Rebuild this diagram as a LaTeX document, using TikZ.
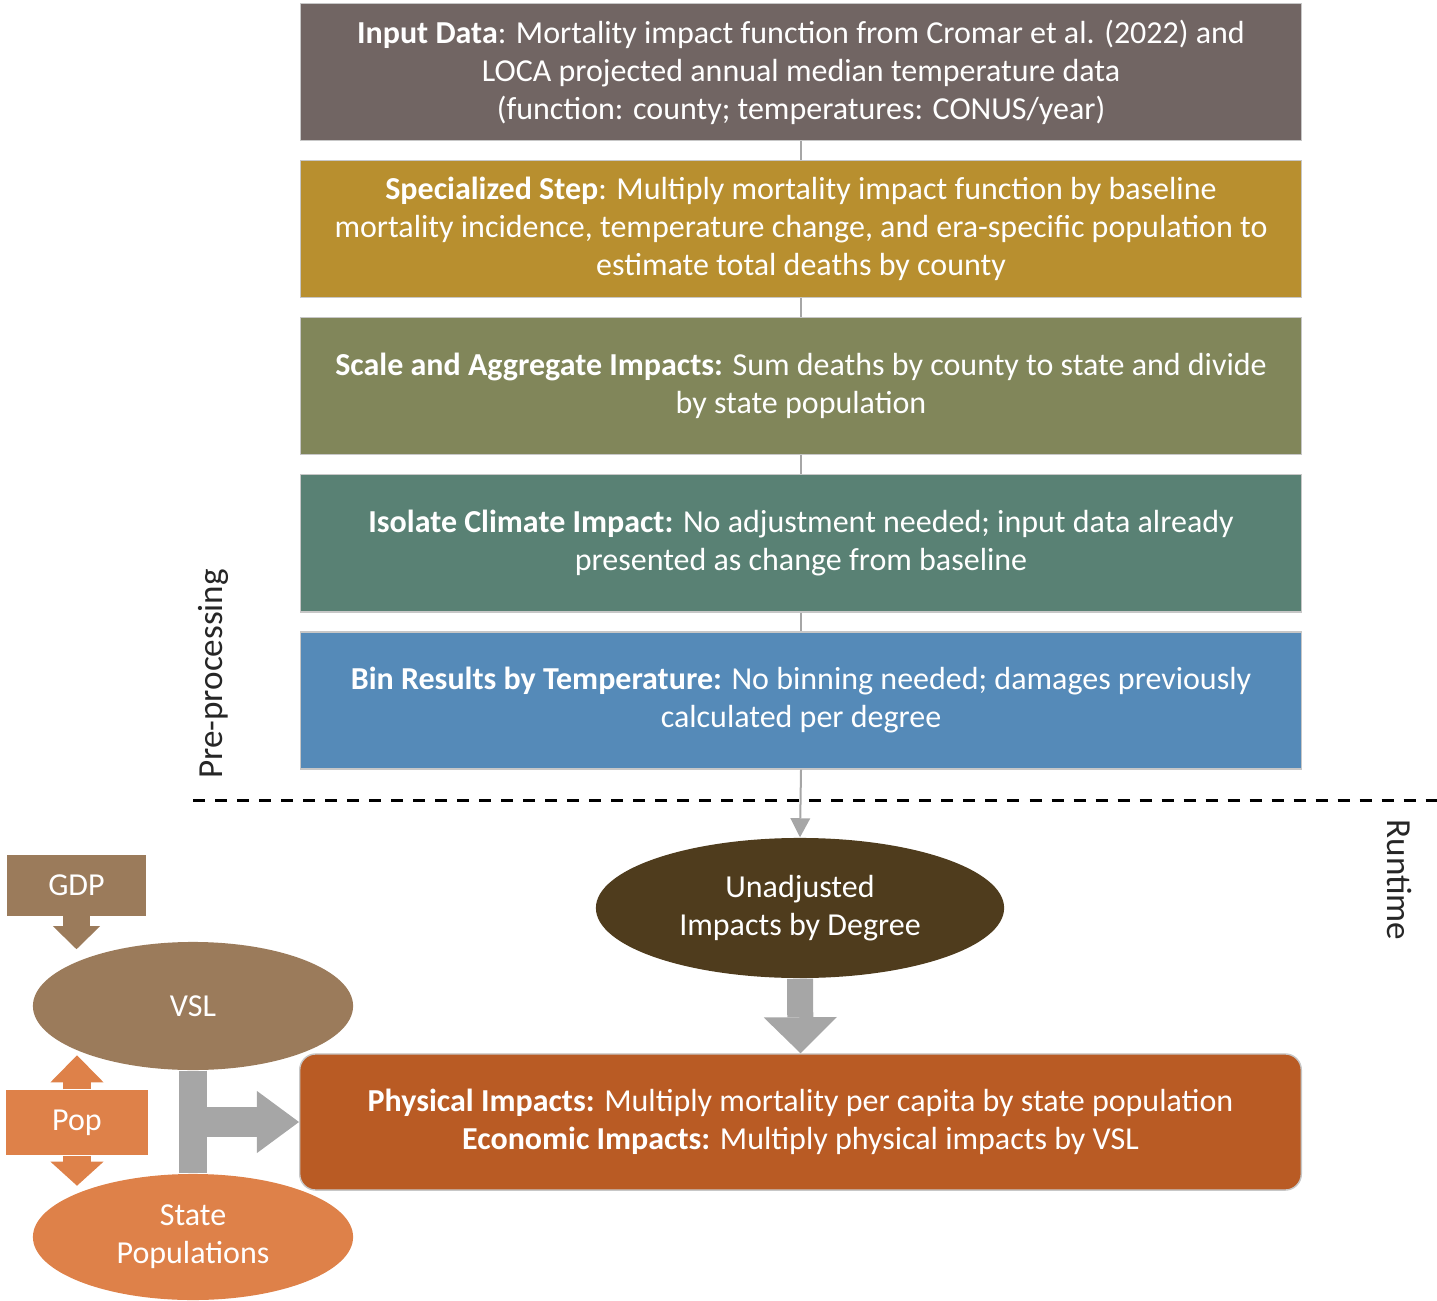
\documentclass[tikz,border=0pt]{standalone}
\usepackage{fontspec}
\setmainfont{Carlito}
\usepackage{xcolor}
\definecolor{inputfill}{HTML}{716563}
\definecolor{specialfill}{HTML}{B88F2F}
\definecolor{scalefill}{HTML}{81865A}
\definecolor{isolatefill}{HTML}{598174}
\definecolor{binfill}{HTML}{558AB8}
\definecolor{unadjfill}{HTML}{4F3C1D}
\definecolor{physfill}{HTML}{B95B24}
\definecolor{vslfill}{HTML}{9B7B5B}
\definecolor{popfill}{HTML}{DE8149}
\definecolor{flowgray}{HTML}{A6A6A6}
\usepackage{tikz}
\usetikzlibrary{arrows.meta, positioning, calc, shapes.geometric}

\begin{document}
\begin{tikzpicture}[
  x=0.01cm, y=-0.01cm,
  font=\fontsize{9.1}{10.8}\selectfont,
  stage/.style={
    draw=black!22, text=white, minimum width=10cm, minimum height=1.37cm,
    align=center, inner sep=0pt
  },
  oval/.style={ellipse, text=white, align=center, inner sep=0pt,
    minimum width=3.2cm, minimum height=1.28cm},
  tag/.style={text=white, inner sep=0pt},
  thin line/.style={flowgray, line width=0.02cm},
  fat arrow/.style={flowgray, line width=0.26cm,
    -{Triangle[width=0.73cm, length=0.36cm, line width=0pt]}},
  side label/.style={text=black!85, font=\fontsize{10}{12}\selectfont}
]
  \useasboundingbox (0,0) rectangle (1437,1301);

  % pre-processing chain
  \node[stage, fill=inputfill] (input) at (801,72)
    {\textbf{Input Data}: Mortality impact function from Cromar et al. (2022) and\\
     LOCA projected annual median temperature data\\
     (function: county; temperatures: CONUS/year)};
  \node[stage, fill=specialfill, below=0.186cm of input] (special)
    {\textbf{Specialized Step}: Multiply mortality impact function by baseline\\
     mortality incidence, temperature change, and era-specific population to\\
     estimate total deaths by county};
  \node[stage, fill=scalefill, below=0.186cm of special] (scale)
    {\textbf{Scale and Aggregate Impacts:} Sum deaths by county to state and divide\\
     by state population};
  \node[stage, fill=isolatefill, below=0.186cm of scale] (isolate)
    {\textbf{Isolate Climate Impact:} No adjustment needed; input data already\\
     presented as change from baseline};
  \node[stage, fill=binfill, below=0.186cm of isolate] (bin)
    {\textbf{Bin Results by Temperature:} No binning needed; damages previously\\
     calculated per degree};

  \foreach \a/\b in {input/special, special/scale, scale/isolate, isolate/bin}
    \draw[thin line] (\a.south) -- (\b.north);

  % runtime
  \node[oval, fill=unadjfill, minimum width=4.08cm, minimum height=1.4cm]
    (unadj) at (800,908) {Unadjusted\\Impacts by Degree};
  \node[stage, fill=physfill, rounded corners=0.16cm, minimum width=10.01cm,
    minimum height=1.36cm] (phys) at (800.5,1122)
    {\textbf{Physical Impacts:} Multiply mortality per capita by state population\\
     \textbf{Economic Impacts:} Multiply physical impacts by VSL};

  \node[tag, fill=vslfill, minimum width=1.39cm, minimum height=0.6cm]
    (gdp) at (76.5,885.5) {GDP};
  \node[oval, fill=vslfill] (vsl) at (193,1006) {VSL};
  \node[tag, fill=popfill, minimum width=1.42cm, minimum height=0.65cm]
    (pop) at (77,1122.5) {Pop};
  \node[oval, fill=popfill, minimum height=1.26cm] (state) at (193,1237)
    {State\\Populations};

  \draw[thin line, -{Triangle[width=0.2cm, length=0.19cm, line width=0pt]}]
    (bin.south) -- (unadj.north);
  \draw[fat arrow] (unadj.south) -- (phys.north);

  \draw[vslfill, line width=0.27cm,
    -{Triangle[width=0.47cm, length=0.23cm, line width=0pt]}]
    (gdp.south) -- ++(0,33);
  \draw[popfill, line width=0.28cm,
    -{Triangle[width=0.53cm, length=0.27cm, line width=0pt]}]
    (pop.north) -- ++(0,-34);
  \draw[popfill, line width=0.28cm,
    -{Triangle[width=0.53cm, length=0.24cm, line width=0pt]}]
    (pop.south) -- ++(0,30);

  \draw[flowgray, line width=0.27cm] (vsl.south) -- (state.north);
  \draw[fat arrow, line width=0.29cm,
    -{Triangle[width=0.62cm, length=0.42cm, line width=0pt]}]
    (vsl.south |- phys.west) -- (phys.west);

  % phase split
  \draw[dashed, line width=0.03cm, dash pattern=on 0.12cm off 0.1cm]
    (193,800) -- (1437,800);
  \node[side label, rotate=90] (prelabel) at (213,674) {Pre-processing};
  \node[side label, rotate=-90] (runlabel) at (1400,880) {Runtime};
\end{tikzpicture}
\end{document}
